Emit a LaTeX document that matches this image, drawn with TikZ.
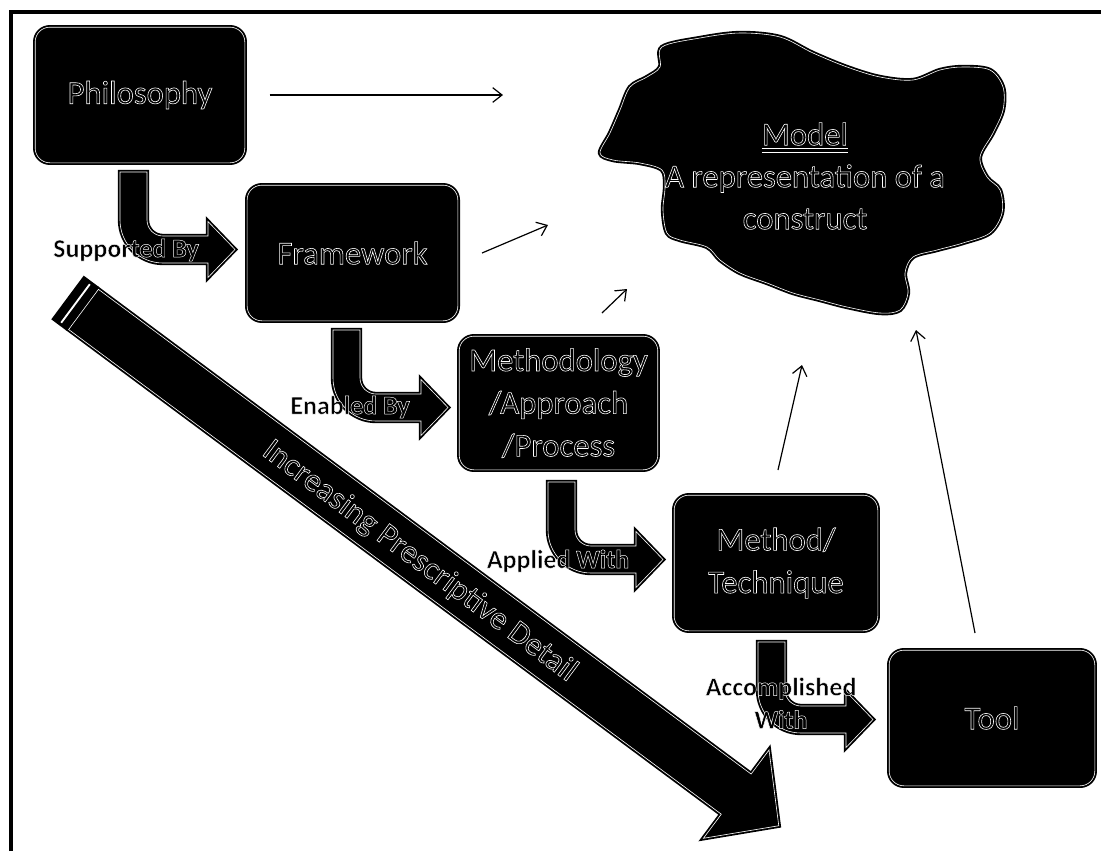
\documentclass[tikz,border=0pt]{standalone}
\usepackage{fontspec}
\setmainfont{Carlito}[BoldFont={Carlito Bold}]
\usetikzlibrary{arrows.meta}
\newcommand\otx[1]{{\special{pdf:literal direct 1 1 1 RG 2 Tr 0.45 w}#1\special{pdf:literal direct 0 Tr}}}
\newcommand\otl[1]{{\special{pdf:literal direct 1 1 1 RG 2 Tr 0.35 w}#1\special{pdf:literal direct 0 Tr}}}
\newlength\myulw
\newcommand\ulwhite[1]{\leavevmode\settowidth\myulw{#1}\rlap{\textcolor{white}{\rule[-2.6pt]{\myulw}{0.4pt}}}\rlap{\textcolor{white}{\rule[-5.2pt]{\myulw}{0.4pt}}}\otx{#1}}
\tikzset{
  dbl/.style={draw=black, double=white, double distance=0.45pt, line width=1.4pt, fill=black},
  box/.style={dbl, rounded corners=11pt, inner sep=0pt, align=center, font=\fontsize{24.5}{32}\selectfont},
  lbl/.style={inner sep=0pt, align=center, font=\bfseries\fontsize{19.5}{24.75}\selectfont},
  conn/.style={line width=0.9pt, -{Straight Barb[length=7pt,width=11pt,line width=0.9pt]}},
  frameline/.style={line width=3pt},
  bentarrow/.pic={\path[dbl] (0,0) -- (27,0) -- (27,48) arc[start angle=180,end angle=90,radius=16] -- (88,64) -- (88,49.5) -- (115,77.5) -- (88,105.5) -- (88,91) -- (43,91) arc[start angle=90,end angle=180,radius=43] -- cycle;}
}
\begin{document}
\begin{tikzpicture}[x=0.75pt,y=-0.75pt]
\useasboundingbox (0,0) rectangle (1101,851);
% frame
\draw[frameline] (10.5,851) -- (10.5,12) -- (1101,12);

% big diagonal arrow
\begin{scope}[shift={(67.5,297.5)}, rotate=-36.6]
  \path[dbl] (20,-25) -- (833,-25) -- (833,-55) -- (886,0) -- (833,55) -- (833,25) -- (20,25) -- cycle;
  \fill[black] (0,-27.2) rectangle (19,27.2);
  \draw[white, line width=1.4pt] (10,-24) -- (10,24);
  \node[inner sep=0pt, rotate=-36.6, font=\fontsize{24.5}{30}\selectfont] (incr) at (440,2) {\otx{Increasing Prescriptive Detail}};
\end{scope}

% model blob
\path[dbl] plot[smooth cycle, tension=0.55] coordinates {
 (662,47) (700,38) (740,33) (780,37) (813,53) (847,67) (880,77) (913,80) (940,70) (963,67) (990,70) (1003,87) (1003,110) (993,133) (980,157) (987,177) (1000,190) (1002,213) (990,233) (963,243) (937,250) (913,257) (905,273) (908,293) (900,310) (880,313) (847,307) (820,300) (793,293) (767,283) (740,273) (720,260) (707,247) (680,240) (667,233) (663,210) (665,187) (662,170) (640,163) (613,160) (600,153) (610,133) (620,110) (630,87) (647,77) (660,67)};
\node[inner sep=0pt, align=center, font=\fontsize{24.5}{31.5}\selectfont] (model) at (805,176) {\ulwhite{Model}\\\otx{A representation of a}\\\otx{construct}};

% boxes
\node[box, minimum width=157.2pt, minimum height=101.7pt] (phil) at (140,95) {\otx{Philosophy}};
\node[box, minimum width=158pt, minimum height=101.7pt] (fw) at (352.5,253) {\otx{Framework}};
\node[box, minimum width=148.9pt, minimum height=100.2pt] (meth) at (558.5,403) {\otx{Methodology}\\\otx{/Approach}\\\otx{/Process}};
\node[box, minimum width=152.7pt, minimum height=101.7pt] (mt) at (776,563) {\otx{Method/}\\\otx{Technique}};
\node[box, minimum width=154.2pt, minimum height=101.7pt] (tool) at (992,718) {\otx{Tool}};

% bent arrows with labels
\pic at (120,172) {bentarrow};
\node[lbl] (l1) at (126,250) {\otl{Supported By}};
\pic at (333,330) {bentarrow};
\node[lbl] (l2) at (350,407) {\otl{Enabled By}};
\pic at (548,482) {bentarrow};
\node[lbl] (l3) at (558,561) {\otl{Applied With}};
\pic at (758,642) {bentarrow};
\node[lbl] (l4) at (781,703) {\otl{Accomplished}\\\otl{With}};

% thin arrows towards the model
\coordinate (a1) at (503,95);
\coordinate (f1) at (482,253);
\coordinate (f2) at (548,225);
\coordinate (s1) at (602,313);
\coordinate (s2) at (627,289);
\coordinate (m1) at (778,470);
\coordinate (m2) at (802,365);
\coordinate (t1) at (975,633);
\coordinate (t2) at (916,330);
\draw[conn, shorten <=18pt] (phil.east) -- (a1);
\draw[conn] (f1) -- (f2);
\draw[conn] (s1) -- (s2);
\draw[conn] (m1) -- (m2);
\draw[conn] (t1) -- (t2);
\end{tikzpicture}
\end{document}
